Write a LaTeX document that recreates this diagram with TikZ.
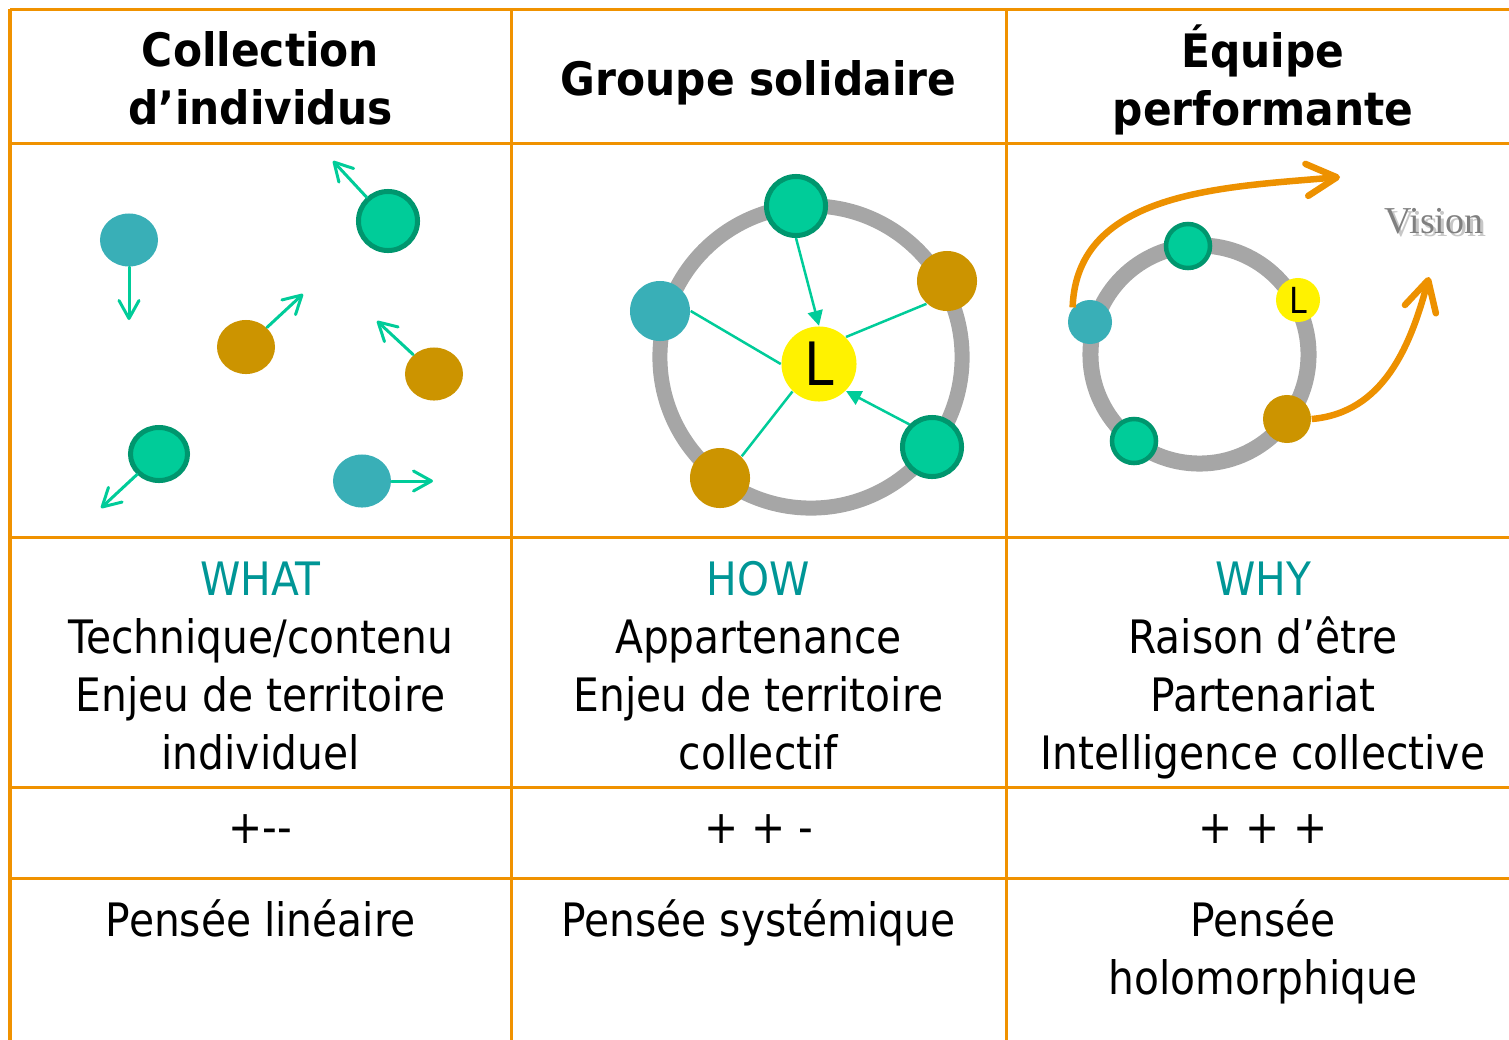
\documentclass[tikz,border=0pt]{standalone}
\usepackage{fontspec}
\setmainfont{DejaVu Sans}[FakeStretch=0.885]
\newfontfamily\headfont{DejaVu Sans}[FakeStretch=0.92]
\newfontfamily\visionfont{Liberation Serif}
\usetikzlibrary{arrows.meta,shapes.geometric}

\newcommand\topstrut{\rule{0pt}{1.2em}}

\begin{document}
\begin{tikzpicture}[x=0.01cm,y=0.01cm]
  % Colors
  \definecolor{tableline}{RGB}{240,146,0}
  \definecolor{ballteal}{RGB}{57,175,183}
  \definecolor{ballgreen}{RGB}{0,204,153}
  \definecolor{ballrim}{RGB}{0,150,110}
  \definecolor{ballgold}{RGB}{204,148,0}
  \definecolor{ringgrey}{RGB}{166,166,166}
  \definecolor{titleteal}{RGB}{0,150,150}
  \definecolor{visionorange}{RGB}{237,145,0}

  % Styles
  \tikzstyle{grid line}=[draw=tableline,line width=0.03cm]
  \tikzstyle{cell}=[align=center,anchor=north,inner sep=0pt,
    font=\fontsize{13.1pt}{16.45pt}\selectfont]
  \tikzstyle{head}=[cell,font=\headfont\bfseries\fontsize{13.1pt}{16.45pt}\selectfont]
  \tikzstyle{teal ball}=[ellipse,fill=ballteal,inner sep=0pt]
  \tikzstyle{gold ball}=[ellipse,fill=ballgold,inner sep=0pt]
  \tikzstyle{green ball}=[ellipse,fill=ballgreen,draw=ballrim,line width=0.05cm,inner sep=0pt]
  \tikzstyle{leader}=[circle,fill=yellow,inner sep=0pt,text=black]
  \tikzstyle{ring}=[circle,draw=ringgrey,inner sep=0pt]
  \tikzstyle{drift}=[draw=ballgreen,line width=0.03cm,line cap=round,
    -{Straight Barb[length=0.18cm,width=0.2cm,round]}]
  \tikzstyle{spoke}=[draw=ballgreen,line width=0.025cm]
  \tikzstyle{pull}=[spoke,-{Triangle[length=0.15cm,width=0.15cm]}]
  \tikzstyle{reach}=[draw=visionorange,line width=0.065cm,
    -{Straight Barb[length=0.3cm,width=0.32cm,round]}]

  \useasboundingbox (0,0) rectangle (1509,-1039);
  \clip (0,0) rectangle (1509,-1039);

  % The table
  \foreach \y in {9,143,537,787,878}
    \draw[grid line] (10,-\y) -- (1530,-\y);
  \foreach \x in {10,511,1006}
    \draw[grid line] (\x,-9) -- (\x,-1060);

  % Headers
  \node[head] (hd1) at (260.5,-10.75) {\topstrut Collection\\d’individus};
  \node[head] (hd2) at (758.5,-39.75) {\topstrut Groupe solidaire};
  \node[head] (hd3) at (1263,-11.75) {\topstrut Équipe\\performante};

  % Collection: balls going their own way
  \node[teal ball,minimum width=0.58cm,minimum height=0.53cm] (t1) at (129,-240) {};
  \node[green ball,minimum width=0.59cm,minimum height=0.59cm] (g1) at (388,-221) {};
  \node[gold ball,minimum width=0.58cm,minimum height=0.54cm] (o1) at (246,-347) {};
  \node[gold ball,minimum width=0.58cm,minimum height=0.53cm] (o2) at (434,-374) {};
  \node[green ball,minimum width=0.57cm,minimum height=0.53cm] (g2) at (159,-454) {};
  \node[teal ball,minimum width=0.58cm,minimum height=0.53cm] (t2) at (362,-481) {};

  \coordinate (dt1) at (129,-320);
  \coordinate (dg1) at (333,-161);
  \coordinate (do1) at (303,-294);
  \coordinate (do2) at (377,-321);
  \coordinate (dg2) at (101,-508);
  \coordinate (dt2) at (433,-481);
  \draw[drift] (t1.south) -- (dt1);
  \draw[drift] (g1.132) -- (dg1);
  \draw[drift] (o1.43) -- (do1);
  \draw[drift] (o2.137) -- (do2);
  \draw[drift] (g2.223) -- (dg2);
  \draw[drift] (t2.east) -- (dt2);

  % Groupe solidaire: a ring round the leader
  \node[ring,minimum size=3.02cm,line width=0.15cm] (ring2) at (811,-357) {};
  \node[green ball,minimum size=0.59cm] (g3) at (796,-206) {};
  \node[gold ball,minimum size=0.6cm] (o3) at (947,-281) {};
  \node[teal ball,minimum size=0.6cm] (t3) at (660,-311) {};
  \node[gold ball,minimum size=0.6cm] (o4) at (720,-478) {};
  \node[green ball,minimum size=0.59cm] (g4) at (932,-447) {};
  \node[leader,minimum size=0.75cm,font=\fontsize{17pt}{17pt}\selectfont] (L2) at (819,-364) {L};

  \draw[pull] (g3.south) -- (L2.north);
  \draw[pull] (g4.135) -- (L2.315);
  \draw[spoke] (t3.east) -- (L2.west);
  \draw[spoke] (o3.228) -- (L2.45);
  \draw[spoke] (o4.45) -- (L2.226);

  % Equipe performante: a ring turned towards the vision
  \node[ring,minimum size=2.18cm,line width=0.16cm] (ring3) at (1199.5,-354.5) {};
  \node[teal ball,minimum size=0.44cm] (t5) at (1090,-322) {};
  \node[green ball,minimum size=0.44cm,line width=0.045cm] (g5) at (1188,-246) {};
  \node[leader,minimum size=0.44cm,font=\fontsize{10.2pt}{10.2pt}\selectfont] (L3) at (1298,-300) {L};
  \node[gold ball,minimum size=0.48cm] (o5) at (1287,-419) {};
  \node[green ball,minimum size=0.44cm,line width=0.045cm] (g6) at (1134,-441) {};

  \coordinate (v1) at (1340,-177);
  \coordinate (v2) at (1429,-277);
  \draw[reach] (t5.140) to[out=88,in=185] (v1);
  \draw[reach] (o5.east) to[out=5,in=-105] (v2);

  \node[anchor=base,font=\visionfont\fontsize{10.8pt}{10.8pt}\selectfont,
    text=black!22] (visionshade) at (1437,-236) {Vision};
  \node[anchor=base,font=\visionfont\fontsize{10.8pt}{10.8pt}\selectfont,
    text=black!50] (vision) at (1434,-233) {Vision};

  % Row texts
  \node[cell] (what) at (260.5,-539.75)
    {\topstrut\textcolor{titleteal}{WHAT}\\Technique/contenu\\Enjeu de territoire\\individuel};
  \node[cell] (how) at (758.5,-539.75)
    {\topstrut\textcolor{titleteal}{HOW}\\Appartenance\\Enjeu de territoire\\collectif};
  \node[cell] (why) at (1263,-539.75)
    {\topstrut\textcolor{titleteal}{WHY}\\Raison d’être\\Partenariat\\Intelligence collective};

  \node[cell] (score1) at (260.5,-787.75) {\topstrut +-{}-};
  \node[cell] (score2) at (758.5,-787.75) {\topstrut + + -};
  \node[cell] (score3) at (1263,-787.75) {\topstrut + + +};

  \node[cell] (mind1) at (260.5,-880.75) {\topstrut Pensée linéaire};
  \node[cell] (mind2) at (758.5,-880.75) {\topstrut Pensée systémique};
  \node[cell] (mind3) at (1263,-880.75) {\topstrut Pensée\\holomorphique};
\end{tikzpicture}
\end{document}
